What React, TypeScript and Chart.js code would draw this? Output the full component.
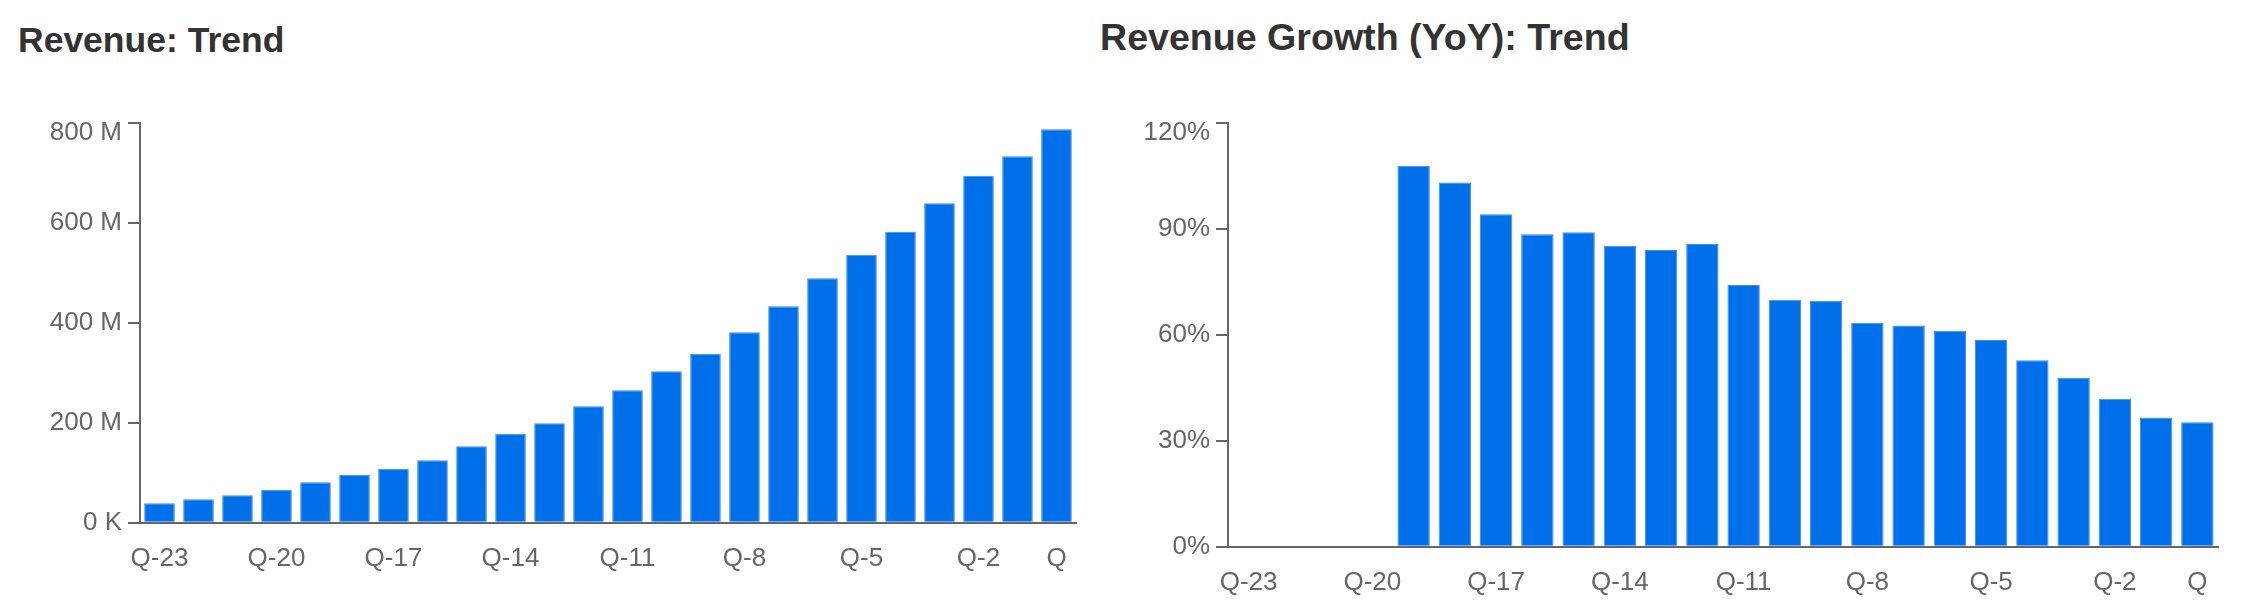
import React, { useEffect, useRef } from 'react';
import { Chart, registerables } from 'chart.js';

Chart.register(...registerables);

// ---- data ----
const quarters = [
  'Q-23', 'Q-22', 'Q-21', 'Q-20', 'Q-19', 'Q-18', 'Q-17', 'Q-16', 'Q-15', 'Q-14', 'Q-13', 'Q-12',
  'Q-11', 'Q-10', 'Q-9', 'Q-8', 'Q-7', 'Q-6', 'Q-5', 'Q-4', 'Q-3', 'Q-2', 'Q-1', 'Q',
];
// Revenue in millions
const revenueM = [
  39, 47, 55, 66, 81, 96, 108, 125, 153, 178, 199, 233,
  265, 303, 338, 381, 433, 489, 536, 582, 639, 694, 733, 787,
];
// Revenue growth YoY in percent
const growthPct: (number | null)[] = [
  null, null, null, null, 107.8, 103.1, 94.1, 88.4, 89.0, 85.2, 84.0, 85.7,
  74.1, 69.9, 69.6, 63.4, 62.6, 61.1, 58.5, 52.8, 47.8, 41.9, 36.6, 35.2,
];
const revenueTicks = [0, 200, 400, 600, 800];
const growthTicks = [0, 30, 60, 90, 120];
const shownLabelIdx = [0, 3, 6, 9, 12, 15, 18, 21, 23];

const FONT = '"Liberation Sans", Arial, Helvetica, sans-serif';
const BAR = '#0070EA';
const AXIS = '#666666';

type PanelProps = {
  data: (number | null)[];
  ticks: number[];
  fmt: (v: number) => string;
  width: number;
  height: number;
  yWidth: number;
  xHeight: number;
  padTop: number;
  padRight: number;
};

function BarPanel(p: PanelProps) {
  const ref = useRef<HTMLCanvasElement | null>(null);
  useEffect(() => {
    if (!ref.current) return;
    const topVal = p.ticks[p.ticks.length - 1];
    const chart = new Chart(ref.current, {
      type: 'bar',
      data: {
        labels: quarters,
        datasets: [
          {
            data: p.data as any,
            backgroundColor: BAR,
            borderColor: '#3d8ef0',
            borderWidth: 1,
            borderSkipped: 'start',
            barPercentage: 0.785,
            categoryPercentage: 1,
          },
        ],
      },
      options: {
        responsive: false,
        animation: false,
        events: [],
        layout: { padding: { top: p.padTop, right: p.padRight, left: 0, bottom: 0 } },
        plugins: { legend: { display: false }, tooltip: { enabled: false }, title: { display: false } },
        scales: {
          x: {
            type: 'category',
            offset: true,
            grid: { display: false },
            border: { display: true, color: AXIS, width: 2 },
            ticks: {
              autoSkip: false,
              maxRotation: 0,
              minRotation: 0,
              padding: 13,
              color: AXIS,
              font: { family: FONT, size: 26 },
              callback: (_v: any, i: number) => (shownLabelIdx.includes(i) ? quarters[i] : ''),
            },
            afterFit: (s: any) => {
              s.height = p.xHeight;
            },
          },
          y: {
            min: p.ticks[0],
            max: topVal,
            afterBuildTicks: (s: any) => {
              s.ticks = p.ticks.map((v) => ({ value: v }));
            },
            grid: {
              drawOnChartArea: false,
              drawTicks: true,
              tickLength: 12,
              color: AXIS,
              lineWidth: 2,
            },
            border: { display: true, color: AXIS, width: 2 },
            ticks: {
              padding: 6,
              color: AXIS,
              font: (ctx: any) =>
                ctx.tick && ctx.tick.value === topVal
                  ? { family: FONT, size: 26, lineHeight: 0.8 }
                  : { family: FONT, size: 26 },
              callback: (v: any) =>
                Number(v) === topVal ? ['', p.fmt(Number(v))] : p.fmt(Number(v)),
            },
            afterFit: (s: any) => {
              s.width = p.yWidth;
            },
          },
        },
      },
    });
    return () => chart.destroy();
  }, []);
  return (
    <canvas
      ref={ref}
      width={p.width}
      height={p.height}
      style={{ display: 'block', width: p.width, height: p.height }}
    />
  );
}

const titleStyle: React.CSSProperties = {
  position: 'absolute',
  fontFamily: FONT,
  fontWeight: 'bold',
  color: '#333333',
  lineHeight: 1,
  whiteSpace: 'nowrap',
  margin: 0,
};

export default function App() {
  // root sits at page (8,8) because of body margin
  const off = 8;
  return (
    <div style={{ position: 'relative', width: 2226, height: 590 }}>
      <div style={{ ...titleStyle, left: 18 - off, top: 23 - off, fontSize: 35.5 }}>Revenue: Trend</div>
      <div style={{ ...titleStyle, left: 1100 - off, top: 19 - off, fontSize: 37.6 }}>
        Revenue Growth (YoY): Trend
      </div>
      <div style={{ position: 'absolute', left: 8 - off, top: 90 - off }}>
        <BarPanel
          data={revenueM}
          ticks={revenueTicks}
          fmt={(v) => (v === 0 ? '0 K' : `${v} M`)}
          width={1082}
          height={510}
          yWidth={132}
          xHeight={77.3}
          padTop={32.7}
          padRight={14}
        />
      </div>
      <div style={{ position: 'absolute', left: 1110 - off, top: 90 - off }}>
        <BarPanel
          data={growthPct}
          ticks={growthTicks}
          fmt={(v) => `${v}%`}
          width={1122}
          height={510}
          yWidth={118}
          xHeight={53.3}
          padTop={32.7}
          padRight={14}
        />
      </div>
    </div>
  );
}
